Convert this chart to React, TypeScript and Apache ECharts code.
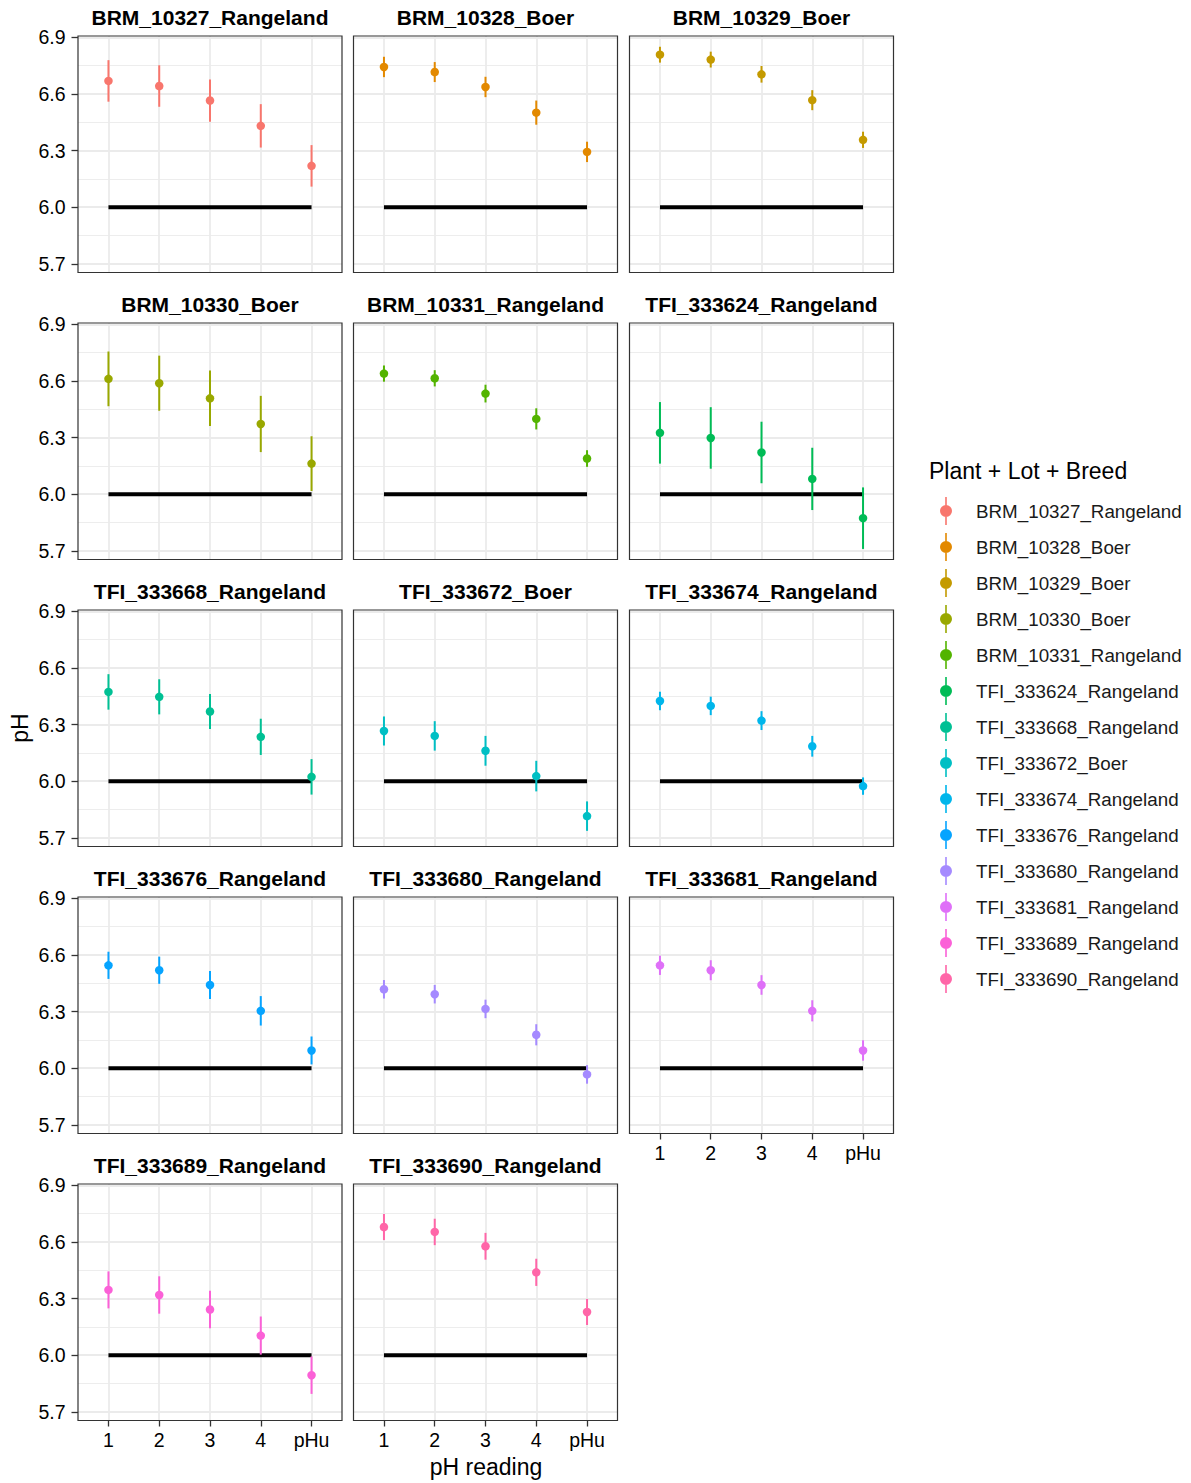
import React, { useEffect, useRef } from "react";
import * as echarts from "echarts";

const panels = [
  "BRM_10327_Rangeland",
  "BRM_10328_Boer",
  "BRM_10329_Boer",
  "BRM_10330_Boer",
  "BRM_10331_Rangeland",
  "TFI_333624_Rangeland",
  "TFI_333668_Rangeland",
  "TFI_333672_Boer",
  "TFI_333674_Rangeland",
  "TFI_333676_Rangeland",
  "TFI_333680_Rangeland",
  "TFI_333681_Rangeland",
  "TFI_333689_Rangeland",
  "TFI_333690_Rangeland",
];

const readings = ["1", "2", "3", "4", "pHu"];

const colors = [
  "#F8766D", "#E38900", "#C49A00", "#99A800", "#53B400", "#00BC56", "#00C094",
  "#00BFC4", "#00B6EB", "#06A4FF", "#A58AFF", "#DF70F8", "#FB61D7", "#FF66A8",
];

// mean pH per reading (1, 2, 3, 4, pHu)
const phMean = [
  [6.669, 6.642, 6.565, 6.431, 6.219],
  [6.743, 6.716, 6.637, 6.501, 6.293],
  [6.808, 6.782, 6.704, 6.567, 6.357],
  [6.611, 6.588, 6.508, 6.372, 6.162],
  [6.639, 6.614, 6.533, 6.399, 6.189],
  [6.325, 6.298, 6.221, 6.081, 5.873],
  [6.473, 6.447, 6.369, 6.235, 6.023],
  [6.266, 6.240, 6.161, 6.027, 5.815],
  [6.425, 6.399, 6.321, 6.185, 5.974],
  [6.545, 6.519, 6.441, 6.304, 6.094],
  [6.418, 6.392, 6.314, 6.177, 5.967],
  [6.545, 6.519, 6.441, 6.304, 6.094],
  [6.346, 6.319, 6.242, 6.104, 5.894],
  [6.679, 6.653, 6.577, 6.439, 6.229],
];

// half-width of the error range
const phHalf = [
  [0.110, 0.110, 0.112, 0.115, 0.110],
  [0.054, 0.053, 0.054, 0.064, 0.054],
  [0.042, 0.042, 0.044, 0.053, 0.043],
  [0.145, 0.146, 0.147, 0.149, 0.145],
  [0.043, 0.043, 0.047, 0.056, 0.044],
  [0.163, 0.163, 0.163, 0.165, 0.163],
  [0.094, 0.093, 0.093, 0.096, 0.094],
  [0.077, 0.078, 0.079, 0.081, 0.078],
  [0.049, 0.049, 0.050, 0.055, 0.046],
  [0.072, 0.072, 0.074, 0.078, 0.074],
  [0.049, 0.049, 0.049, 0.056, 0.049],
  [0.051, 0.053, 0.052, 0.056, 0.054],
  [0.098, 0.099, 0.099, 0.101, 0.099],
  [0.069, 0.070, 0.071, 0.072, 0.069],
];

const yTicks = [5.7, 6.0, 6.3, 6.6, 6.9];
const yMinorGrid = [5.85, 6.15, 6.45, 6.75];
const xTicks = [1, 2, 3, 4, 5];
const threshold = 6.0;
const yMin = 5.654;
const yMax = 6.907;

const FONT = '"Liberation Sans", Arial, Helvetica, sans-serif';
const colLeft = [78, 353.5, 629.5];
const rowTop = [36, 323, 610, 897, 1184];
const PW = 264;
const PH = 236.5;

export default function App() {
  const ref = useRef<HTMLDivElement>(null);
  useEffect(() => {
    document.body.style.margin = "0";
    const chart = echarts.init(ref.current as HTMLDivElement, null, { renderer: "svg" });
    const n = panels.length;
    const pos = panels.map((_, i) => ({ left: colLeft[i % 3], top: rowTop[Math.floor(i / 3)] }));
    const showX = (i: number) => i + 3 >= n;
    const showY = (i: number) => i % 3 === 0;

    const grids = pos.map((p) => ({ left: p.left, top: p.top, width: PW, height: PH, show: false }));

    const xAxes = panels.map((_, i) => ({
      type: "value",
      gridIndex: i,
      min: 0.4,
      max: 5.6,
      axisLine: { show: false },
      axisTick: {
        show: showX(i),
        customValues: xTicks,
        length: 6,
        lineStyle: { color: "#333333", width: 1.3 },
      },
      axisLabel: {
        show: showX(i),
        customValues: xTicks,
        formatter: (v: number) => readings[Math.round(v) - 1] ?? "",
        fontSize: 19.5,
        fontFamily: FONT,
        color: "#000",
        margin: 9,
      },
      splitLine: { show: true, lineStyle: { color: "#EBEBEB", width: 1.8 } },
    }));

    const yAxes = panels.map((_, i) => ({
      type: "value",
      gridIndex: i,
      min: yMin,
      max: yMax,
      axisLine: { show: false },
      axisTick: {
        show: showY(i),
        customValues: yTicks,
        length: 6.5,
        lineStyle: { color: "#333333", width: 1.3 },
      },
      axisLabel: {
        show: showY(i),
        customValues: yTicks,
        formatter: (v: number) => v.toFixed(1),
        fontSize: 19.5,
        fontFamily: FONT,
        color: "#000",
        margin: 12.5,
      },
      splitLine: { show: true, lineStyle: { color: "#EBEBEB", width: 1.8 } },
    }));

    const series: any[] = [];
    panels.forEach((name, i) => {
      series.push({
        type: "line",
        name: "threshold",
        xAxisIndex: i,
        yAxisIndex: i,
        data: [
          [1, threshold],
          [5, threshold],
        ],
        symbol: "none",
        silent: true,
        z: 2,
        lineStyle: { color: "#000", width: 4, cap: "butt" },
        markLine: {
          silent: true,
          symbol: "none",
          label: { show: false },
          lineStyle: { color: "#EBEBEB", width: 0.9, type: "solid" },
          emphasis: { disabled: true },
          data: yMinorGrid.map((v) => ({ yAxis: v })),
          z: 1,
        },
      });
      series.push({
        type: "custom",
        name,
        xAxisIndex: i,
        yAxisIndex: i,
        z: 3,
        itemStyle: { color: colors[i] },
        encode: { x: 0, y: [1, 2] },
        data: phMean[i].map((m, j) => [j + 1, m - phHalf[i][j], m + phHalf[i][j]]),
        renderItem: (params: any, api: any) => {
          const x = api.value(0);
          const a = api.coord([x, api.value(1)]);
          const b = api.coord([x, api.value(2)]);
          return {
            type: "line",
            shape: { x1: a[0], y1: a[1], x2: b[0], y2: b[1] },
            style: { stroke: colors[i], lineWidth: 2 },
          };
        },
      });
      series.push({
        type: "scatter",
        name,
        xAxisIndex: i,
        yAxisIndex: i,
        z: 4,
        symbol: "circle",
        symbolSize: 8.5,
        itemStyle: { color: colors[i], opacity: 1 },
        data: phMean[i].map((m, j) => [j + 1, m]),
      });
    });

    const graphics: any[] = [];
    panels.forEach((name, i) => {
      const p = pos[i];
      graphics.push({
        type: "rect",
        shape: { x: p.left, y: p.top, width: PW, height: PH },
        style: { fill: "none", stroke: "#333333", lineWidth: 1.2 },
        z: 100,
        silent: true,
      });
      graphics.push({
        type: "text",
        x: p.left + PW / 2,
        y: p.top - 19,
        style: {
          text: name,
          font: `bold 21px ${FONT}`,
          fill: "#000",
          textAlign: "center",
          textVerticalAlign: "middle",
        },
        z: 100,
      });
    });
    graphics.push({
      type: "text",
      x: 486,
      y: 1467,
      style: {
        text: "pH reading",
        font: `23px ${FONT}`,
        fill: "#000",
        textAlign: "center",
        textVerticalAlign: "middle",
      },
    });
    graphics.push({
      type: "text",
      x: 20,
      y: 728,
      rotation: Math.PI / 2,
      style: {
        text: "pH",
        font: `23px ${FONT}`,
        fill: "#000",
        textAlign: "center",
        textVerticalAlign: "middle",
      },
    });
    graphics.push({
      type: "text",
      x: 929,
      y: 471,
      style: {
        text: "Plant + Lot + Breed",
        font: `23px ${FONT}`,
        fill: "#000",
        textAlign: "left",
        textVerticalAlign: "middle",
      },
    });

    const option: any = {
      animation: false,
      backgroundColor: "#ffffff",
      textStyle: { fontFamily: FONT },
      grid: grids,
      xAxis: xAxes,
      yAxis: yAxes,
      series,
      graphic: graphics,
      legend: {
        data: panels,
        orient: "vertical",
        left: 940,
        top: 497,
        padding: 0,
        itemWidth: 12,
        itemHeight: 28,
        itemGap: 8,
        selectedMode: false,
        icon: "path://M5.2,0L6.8,0L6.8,28L5.2,28Z M12,14A6,6,0,1,1,0,14A6,6,0,1,1,12,14Z",
        textStyle: {
          fontSize: 18.8,
          fontFamily: FONT,
          color: "#1A1A1A",
          padding: [0, 0, 0, 19],
        },
      },
    };
    chart.setOption(option);
    return () => chart.dispose();
  }, []);
  return <div ref={ref} style={{ width: 1191, height: 1483 }} />;
}
